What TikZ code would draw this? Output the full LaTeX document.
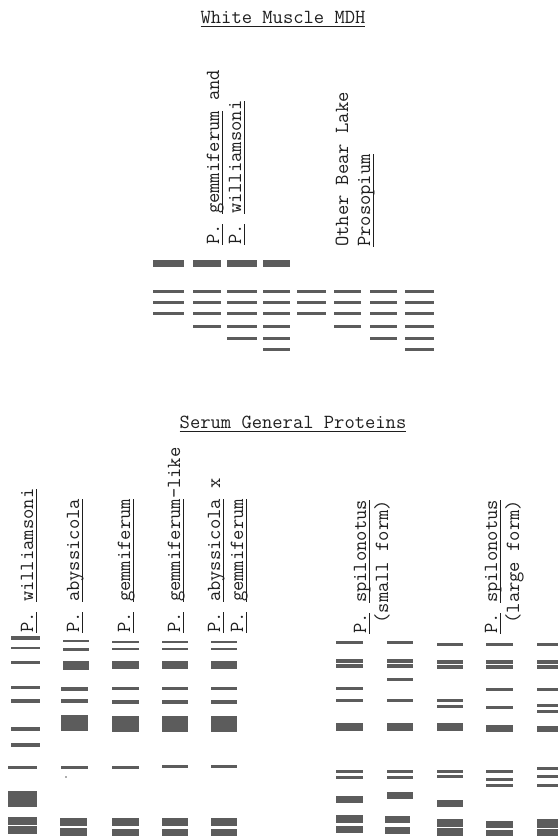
\documentclass[tikz,border=0pt]{standalone}
\usepackage{xcolor}
\definecolor{ink}{gray}{0.12}
\definecolor{bandc}{gray}{0.36}
\newcommand\ul[1]{\setbox0\hbox{#1}\rlap{\rule[-3.4pt]{\wd0}{0.8pt}}\box0\relax}
\newcommand\lane[3]{\foreach \ya/\yb in {#3} \fill[bandc] (#1,\ya) rectangle (#2,\yb);}
\begin{document}
\begin{tikzpicture}[x=1pt,y=-1pt,
  every node/.style={font=\ttfamily\fontsize{20}{22}\selectfont, text=ink, inner sep=0pt},
  lbl/.style={rotate=90, anchor=base west},
  ttl/.style={anchor=base}]
\useasboundingbox (0,0) rectangle (558,836);
\fill[white] (0,0) rectangle (558,836);

% ---------- White Muscle MDH ----------
\node[ttl] (t1) at (283,23) {\ul{White Muscle MDH}};
\node[lbl] (m1) at (219,245) {\ul{P.} \ul{gemmiferum} and};
\node[lbl] (m2) at (241,245) {\ul{P.} \ul{williamsoni}};
\node[lbl] (m3) at (348,247) {Other Bear Lake};
\node[lbl] (m4) at (370,247) {\ul{Prosopium}};

\foreach \xa/\xb in {153/184,193/221,227/257,263/290}
  \fill[bandc] (\xa,260) rectangle (\xb,267);
\foreach \xa/\xb/\n in {153/184/3,193/221/4,227/257/5,263/290/6,297/326/3,334/361/4,370/397/5,405/434/6}{
  \foreach \yc [count=\i] in {291.7,302.7,313.3,326,338,349}{
    \ifnum\i>\n\relax\else\fill[bandc] (\xa,\yc-1.5) rectangle (\xb,\yc+1.5);\fi}}

% ---------- Serum General Proteins ----------
\node[ttl] (t2) at (293,428) {\ul{Serum General Proteins}};
\node[lbl] (s1) at (33,633) {\ul{P.} \ul{williamsoni}};
\node[lbl] (s2) at (79,633) {\ul{P.} \ul{abyssicola}};
\node[lbl] (s3) at (130,633) {\ul{P.} \ul{gemmiferum}};
\node[lbl] (s4) at (180,633) {\ul{P.} \ul{gemmiferum}-like};
\node[lbl] (s5a) at (220,633) {\ul{P.} \ul{abyssicola} x};
\node[lbl] (s5b) at (243,633) {\ul{P.} \ul{gemmiferum}};
\node[lbl] (s6a) at (366,634) {\ul{P.} \ul{spilonotus}};
\node[lbl] (s6b) at (388,634) {\ (small form)};
\node[lbl] (s7a) at (497,634) {\ul{P.} \ul{spilonotus}};
\node[lbl] (s7b) at (519,634) {\ (large form)};

% lane 1
\lane{11}{40}{636.3/640.3, 646.5/649, 660.5/664, 685.5/689, 699/702.5, 727/730.5, 743.3/746.8}
\lane{8}{37}{765.5/769, 790.7/806.7, 816.7/825, 826.3/834}
% lane 2
\lane{63}{89}{639.7/641.9, 648.3/650.5, 661/670}
\lane{61}{88}{687/690.5, 699/702.5, 715/731, 765.8/768.8}
\lane{60}{87}{817.7/825.7, 828/836}
\fill[bandc] (66,777) circle (0.9);
% lanes 3-5
\lane{112}{139}{640.6/642.8, 648.2/650.4, 660.7/664.7, 665.3/669.3, 686.5/690, 700/703.5, 716/731.7, 765.8/768.8, 817.7/825.7, 829.3/836}
\lane{162}{188}{640.6/642.8, 648.2/650.4, 660.7/664.7, 665.3/669.3, 686.5/690, 700/703.5, 716/731.7, 765.2/768.2, 817.7/825.7, 829.3/836}
\lane{211}{237}{640.6/642.8, 648.2/650.4, 660.7/664.7, 665.3/669.3, 686.5/690, 700/703.5, 716/731.7, 764.5/767.5, 817.7/825.7, 829.3/836}
% lane 6
\lane{336}{363}{641.2/644.2, 658.7/663, 664/668, 686.8/689.8, 699.2/702.2, 723.3/730.7, 770.2/773.2, 775.8/778.8, 795.7/802.7, 815/822.7, 826/833.3}
% lane 7
\lane{387}{413}{641.2/644.2, 658.7/663, 664/668, 677.8/680.8, 699.2/702.2, 723.3/730.7, 770.2/773.2, 775.8/778.8, 791.7/799}
\lane{385}{410}{816/823.3, 826.7/834}
% lane 8
\lane{437}{463}{642.5/645.5, 659.5/663.5, 664.5/668.5, 699.2/702.2, 704.5/707.5, 723.3/730.7, 769.5/772.5, 775.2/778.2, 800/807.3, 819.3/826.7, 828.3/836}
% lane 9
\lane{486}{513}{642.8/645.8, 659.5/663.5, 664.5/668.5, 687.8/690.8, 705.8/708.8, 725/731.7, 769.5/772.5, 777.5/780.5, 784.2/787.2, 820.7/828.3, 830/836}
% lane 10
\lane{537}{558}{642.8/645.8, 660/664, 665/668.5, 687.5/690.5, 704.2/707.2, 710.2/713.2, 726/731.7, 766.8/769.8, 774.5/777.5, 783.5/786.5, 819.3/827.7, 829.3/836}
\end{tikzpicture}
\end{document}
